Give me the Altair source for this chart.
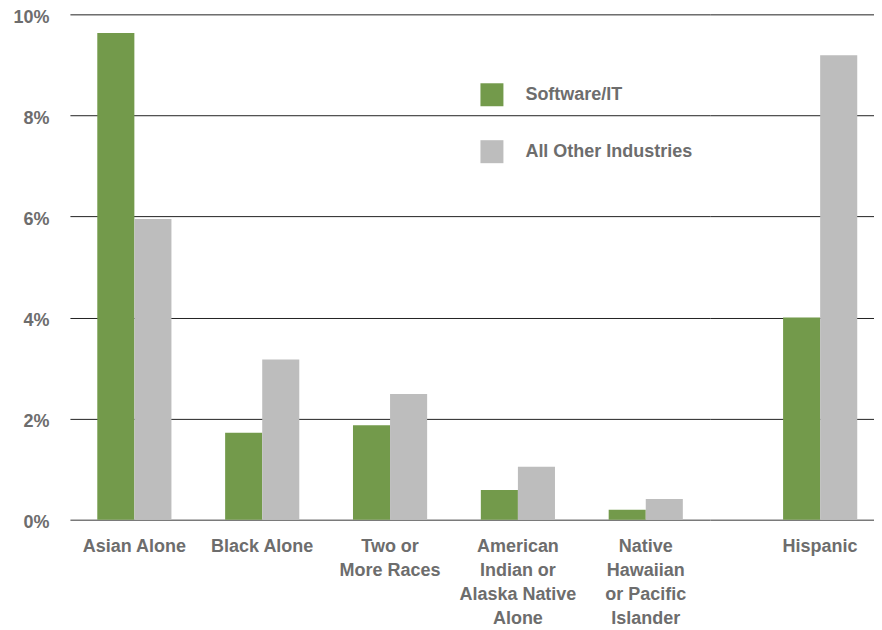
import altair as alt
import pandas as pd

categories = [
    "Asian Alone",
    "Black Alone",
    "Two or\nMore Races",
    "American\nIndian or\nAlaska Native\nAlone",
    "Native\nHawaiian\nor Pacific\nIslander",
    "Hispanic",
]
series = ["Software/IT", "All Other Industries"]
software_it = [9.63, 1.72, 1.87, 0.59, 0.20, 4.00]
all_other = [5.95, 3.17, 2.49, 1.05, 0.41, 9.19]
y_ticks = [0, 2, 4, 6, 8, 10]
colors = ["#739a4b", "#bdbdbd"]

rows = []
for c, a, b in zip(categories, software_it, all_other):
    rows.append({"category": c, "series": series[0], "value": a})
    rows.append({"category": c, "series": series[1], "value": b})
df = pd.DataFrame(rows)

FONT = "Liberation Sans"
TXT = "#6d6d6d"
H = 506

grid_color = {"condition": {"test": "datum.value === 0", "value": "#7a7a7a"}, "value": "#222222"}
grid_width = {"condition": {"test": "datum.value === 0", "value": 1.5}, "value": 1}


def panel(cats, width, x_scale, show_y, legend):
    if show_y:
        yaxis = alt.Axis(values=y_ticks, labelExpr="datum.value + '%'", title=None,
                         labelFont=FONT, labelFontSize=18, labelFontWeight="bold",
                         labelColor=TXT, labelPadding=21, ticks=False, tickSize=0,
                         domain=False, gridColor=grid_color, gridWidth=grid_width,
                         labelOffset=3)
    else:
        yaxis = alt.Axis(values=y_ticks, labels=False, title=None, ticks=False,
                         tickSize=0, domain=False, gridColor=grid_color,
                         gridWidth=grid_width)
    return alt.Chart(df).transform_filter(
        alt.FieldOneOfPredicate(field="category", oneOf=cats)
    ).mark_bar().encode(
        x=alt.X("category:N", sort=cats, scale=x_scale,
                axis=alt.Axis(title=None, labelAngle=0, domain=False, ticks=False,
                              labelExpr="split(datum.label, '\\n')",
                              labelFont=FONT, labelFontSize=18, labelFontWeight="bold",
                              labelColor=TXT, labelLineHeight=24, labelPadding=18,
                              labelBaseline="top")),
        xOffset=alt.XOffset("series:N", sort=series,
                            scale=alt.Scale(paddingInner=0, paddingOuter=0)),
        y=alt.Y("value:Q", scale=alt.Scale(domain=[0, 10], nice=False), axis=yaxis),
        color=alt.Color("series:N", sort=series,
                        scale=alt.Scale(domain=series, range=colors), legend=legend),
    ).properties(width=width, height=H)


legend = alt.Legend(title=None, orient="none", legendX=411, legendY=69,
                    symbolType="square", symbolSize=529, symbolStrokeWidth=0,
                    labelFont=FONT, labelFontSize=18, labelFontWeight="bold",
                    labelColor=TXT, rowPadding=34, labelOffset=22, labelLimit=300,
                    direction="vertical")

left = panel(categories[:5], 641,
             alt.Scale(domain=categories[:5], paddingInner=0.42, paddingOuter=0.214, align=0.5),
             True, legend)
right = panel(categories[5:], 164,
              alt.Scale(domain=categories[5:], paddingInner=0, paddingOuter=0.608, align=0.811),
              False, None)

chart = alt.hconcat(left, right, spacing=0).properties(
    padding={"left": 4, "top": 0, "right": 0, "bottom": 0}
).configure_view(stroke=None)

chart.save("out.html", embed_options={"renderer": "svg", "actions": False})
